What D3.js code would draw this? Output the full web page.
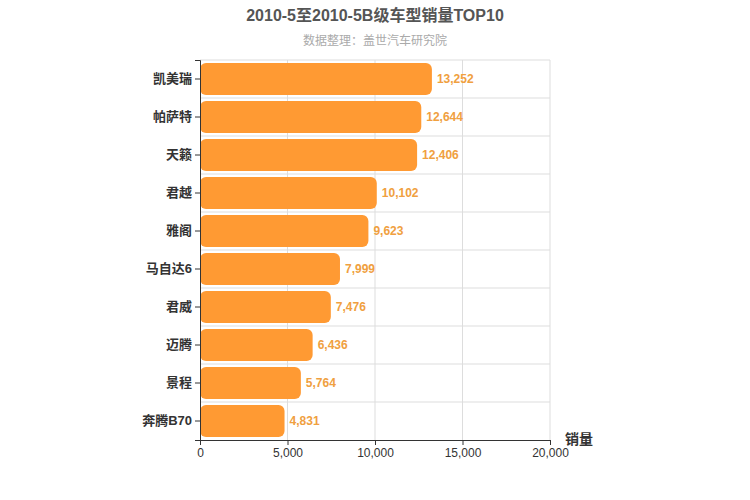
<!DOCTYPE html><html><head><meta charset="utf-8"><script src="https://cdn.jsdelivr.net/npm/d3@7"></script>
<style>body{margin:0;background:#fff}text{font-family:"Helvetica","Liberation Sans","Noto Sans CJK SC",sans-serif}</style></head><body>
<svg id="c" width="750" height="500"></svg>
<script>
const categories=["凯美瑞","帕萨特","天籁","君越","雅阁","马自达6","君威","迈腾","景程","奔腾B70"];
const values=[13252,12644,12406,10102,9623,7999,7476,6436,5764,4831];
const xTicks=[0,5000,10000,15000,20000];
const svg=d3.select("#c");
const m={l:200,r:550,t:60,b:440};
const x=d3.scaleLinear().domain([0,20000]).range([m.l,m.r]);
const y=d3.scaleBand().domain(categories).range([m.t,m.b]);
const g=svg.append("g");
// grid
g.selectAll(".vg").data(xTicks.slice(1)).enter().append("line").attr("x1",d=>x(d)).attr("x2",d=>x(d)).attr("y1",m.t).attr("y2",m.b).attr("stroke","#ddd");
g.selectAll(".hg").data(categories).enter().append("line").attr("x1",m.l).attr("x2",m.r).attr("y1",d=>y(d)).attr("y2",d=>y(d)).attr("stroke","#ddd");
// bars
g.selectAll(".bar").data(values).enter().append("rect").attr("x",x(0)).attr("y",(d,i)=>y(categories[i])+3).attr("height",y.bandwidth()-6).attr("width",d=>x(d)-x(0)).attr("rx",6).attr("fill","#ff9a33");
g.selectAll(".lbl").data(values).enter().append("text").attr("x",d=>x(d)+5).attr("y",(d,i)=>y(categories[i])+y.bandwidth()/2+4).attr("fill","#f0a040").attr("font-size",12).attr("font-weight","bold").text(d=>d3.format(",")(d));
// axes
const xa=svg.append("g").attr("transform",`translate(0,${m.b})`).call(d3.axisBottom(x).tickValues(xTicks).tickFormat(d3.format(",")).tickSize(5));
xa.selectAll("text").attr("font-size",12).attr("fill","#333");
xa.selectAll("line,path").attr("stroke","#333");
const ya=svg.append("g").attr("transform",`translate(${m.l},0)`).call(d3.axisLeft(y).tickSize(5));
ya.selectAll("text").attr("font-size",13).attr("font-weight","bold").attr("fill","#333");
ya.selectAll("line,path").attr("stroke","#333");
svg.append("text").attr("x",375).attr("y",21).attr("text-anchor","middle").attr("font-size",16).attr("font-weight","bold").attr("fill","#555").text("2010-5至2010-5B级车型销量TOP10");
svg.append("text").attr("x",375).attr("y",45).attr("text-anchor","middle").attr("font-size",12).attr("fill","#aaa").text("数据整理：盖世汽车研究院");
svg.append("text").attr("x",565).attr("y",444).attr("font-size",14).attr("font-weight","bold").attr("fill","#333").text("销量");
</script></body></html>
